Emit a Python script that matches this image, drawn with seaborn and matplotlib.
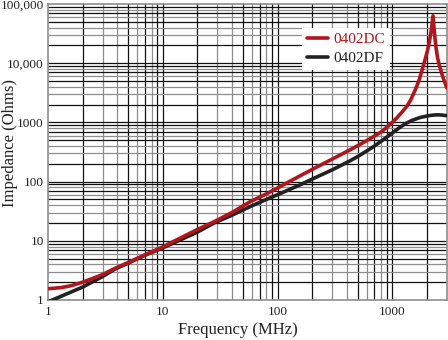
import matplotlib
matplotlib.use('Agg')
import matplotlib.pyplot as plt
import pandas as pd
import seaborn as sns
from matplotlib.ticker import FixedLocator, FixedFormatter, NullLocator
from matplotlib.lines import Line2D

# ---- data ----
series_names = ['0402DC', '0402DF']

freq_dc = [1, 1.3, 1.6, 2, 2.5, 3, 3.8, 5, 7, 10, 20, 28, 40, 58, 80, 100, 157,
           200, 300, 430, 500, 640, 800, 900, 1000, 1100, 1200, 1340, 1440,
           1520, 1620, 1720, 1810, 1920, 2030, 2100, 2150, 2200, 2230, 2250,
           2265, 2280, 2300, 2330, 2370, 2415, 2480, 2550, 2650, 2750, 2850,
           3000]
z_dc = [1.55, 1.62, 1.75, 2.0, 2.35, 2.7, 3.4, 4.3, 5.8, 7.9, 15.5, 21, 30, 46,
        62, 78, 125, 160, 240, 345, 405, 530, 690, 830, 1000, 1200, 1450, 1870,
        2350, 2950, 3900, 5300, 7400, 11000, 16500, 22500, 29000, 39000, 48000,
        57000, 63000, 56000, 44000, 33000, 24000, 17500, 12500, 9800, 7600,
        6000, 4900, 3800]

freq_df = [1, 1.5, 2, 3, 3.8, 5, 7, 10, 20, 28, 40, 58, 80, 100, 157, 200, 300,
           430, 500, 600, 700, 800, 1000, 1150, 1300, 1500, 1750, 2000, 2200,
           2400, 2600, 2800, 3000]
z_df = [0.93, 1.3, 1.65, 2.5, 3.3, 4.2, 5.7, 7.6, 14, 20, 27, 38, 50, 60, 88,
        110, 158, 225, 265, 330, 400, 480, 660, 810, 950, 1090, 1210, 1280,
        1320, 1340, 1340, 1320, 1300]

x_ticks = [1, 10, 100, 1000]
x_tick_labels = ['1', '10', '100', '1000']
y_ticks = [1, 10, 100, 1000, 10000, 100000]
y_tick_labels = ['1', '10', '100', '1000', '10,000', '100,000']

x_label = 'Frequency (MHz)'
y_label = 'Impedance (Ohms)'

colors = {'0402DC': '#b3151d', '0402DF': '#222222'}

df = pd.DataFrame({
    'freq': freq_dc + freq_df,
    'z': z_dc + z_df,
    'series': [series_names[0]] * len(freq_dc) + [series_names[1]] * len(freq_df),
})

sns.set_theme(style='white')
plt.rcParams['font.family'] = ['Liberation Serif', 'DejaVu Serif']

fig = plt.figure(figsize=(4.48, 3.40), dpi=100)
ax = fig.add_axes([48 / 448, 40 / 340, 399 / 448, 296 / 340])

ax.set_xscale('log')
ax.set_yscale('log')
ax.set_xlim(1, 3000)
ax.set_ylim(1, 100000)

# grid: major black, minor alternating black / gray
gray = '#8e8e8e'
black_minor = {2, 5, 7, 9}
for d in range(0, 4):
    base = 10 ** d
    if d > 0:
        ax.axvline(base, color='#111111', lw=0.9, zorder=1)
    for k in range(2, 10):
        v = k * base
        if v >= 3000:
            break
        ax.axvline(v, color='#111111' if k in black_minor else gray, lw=0.9, zorder=1)
for d in range(0, 5):
    base = 10 ** d
    if d > 0:
        ax.axhline(base, color='#111111', lw=0.9, zorder=1)
    for k in range(2, 10):
        v = k * base
        ax.axhline(v, color='#111111' if k in black_minor else gray, lw=0.9, zorder=1)

# curves: black first, red on top
sns.lineplot(data=df[df.series == series_names[1]], x='freq', y='z',
             color=colors[series_names[1]], lw=2.6, ax=ax, estimator=None,
             sort=False, zorder=3)
sns.lineplot(data=df[df.series == series_names[0]], x='freq', y='z',
             color=colors[series_names[0]], lw=2.6, ax=ax, estimator=None,
             sort=False, zorder=4)

ax.xaxis.set_major_locator(FixedLocator(x_ticks))
ax.xaxis.set_major_formatter(FixedFormatter(x_tick_labels))
ax.xaxis.set_minor_locator(NullLocator())
ax.yaxis.set_major_locator(FixedLocator(y_ticks))
ax.yaxis.set_major_formatter(FixedFormatter(y_tick_labels))
ax.yaxis.set_minor_locator(NullLocator())
ax.tick_params(axis='both', length=0, labelsize=9.5, colors='#222222', pad=3)
ax.tick_params(axis='x', pad=4)

for s in ax.spines.values():
    s.set_color(gray)
    s.set_linewidth(1.2)
    s.set_visible(True)

ax.set_xlabel(x_label, fontsize=12, color='#222222')
ax.set_ylabel(y_label, fontsize=12, color='#222222')
ax.xaxis.set_label_coords(0.476, -0.074)
ax.yaxis.set_label_coords(-0.074, 0.53)

handles = [Line2D([], [], color=colors[n], lw=2.6) for n in series_names]
leg = ax.legend(handles, series_names, loc='upper left',
                bbox_to_anchor=(0.637, 0.92), borderaxespad=0,
                frameon=True, fancybox=False, framealpha=1, edgecolor='white',
                fontsize=11, handlelength=1.4, handletextpad=0.35,
                borderpad=0.3, labelspacing=0.35, labelcolor='linecolor')
leg.get_frame().set_linewidth(0)
leg.set_zorder(10)

fig.savefig('out.png', dpi=100)
